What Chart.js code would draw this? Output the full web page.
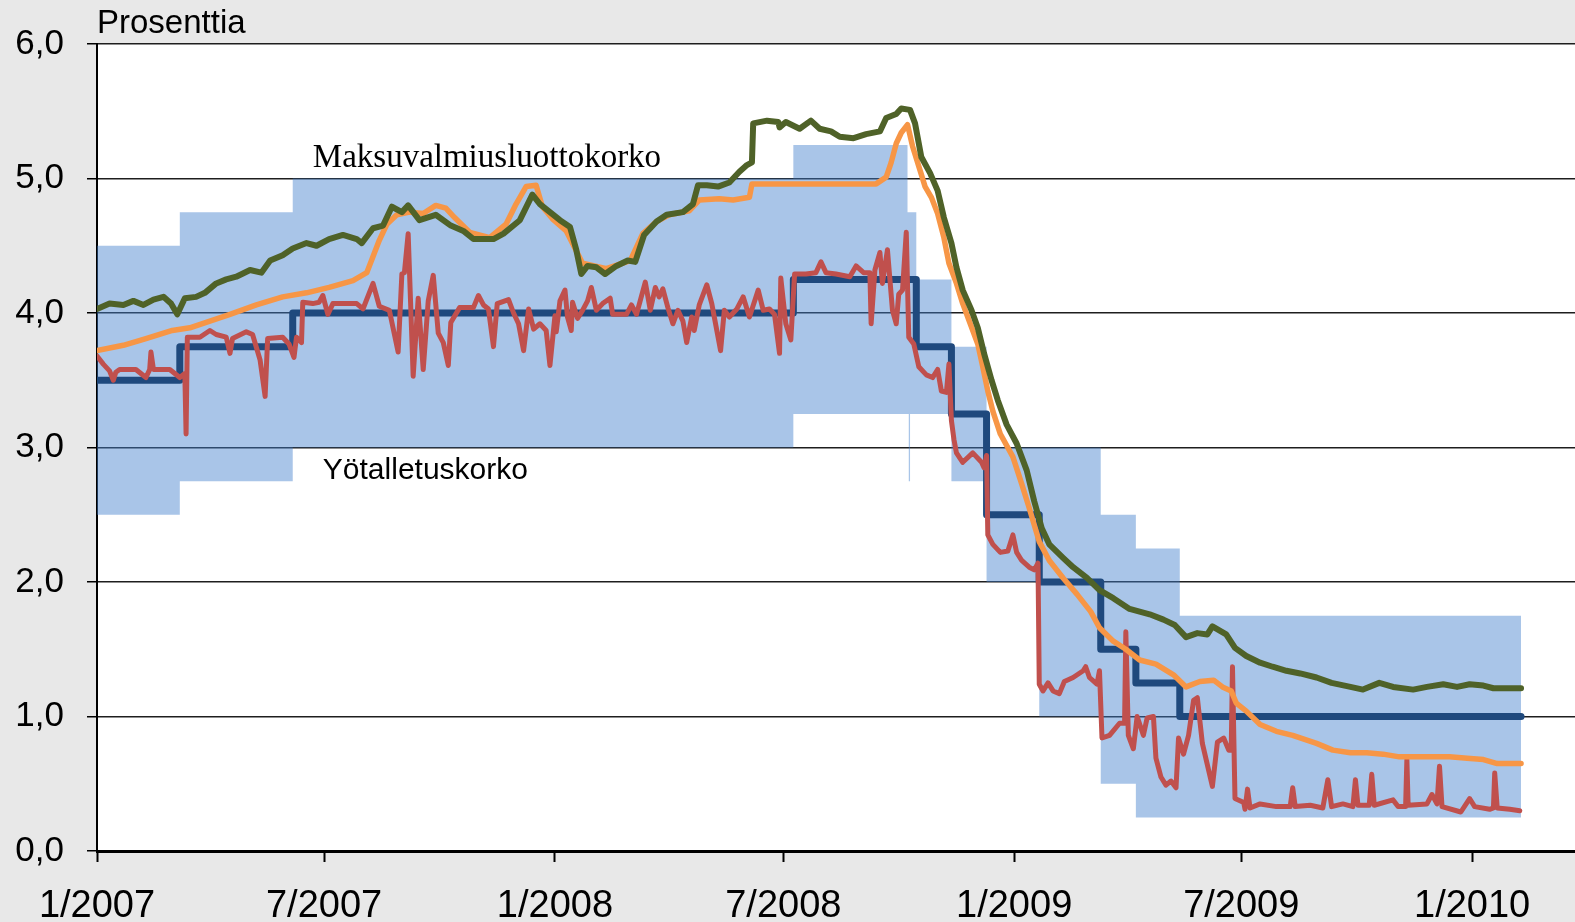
<!DOCTYPE html>
<html>
<head>
<meta charset="utf-8">
<script src="https://cdn.jsdelivr.net/npm/chart.js@4/dist/chart.umd.min.js"></script>
<style>
html,body{margin:0;padding:0;background:#e8e8e8;overflow:hidden}
#wrap{position:relative;width:1575px;height:922px}
canvas{display:block}
</style>
</head>
<body>
<div id="wrap"><canvas id="c" width="1575" height="922"></canvas></div>
<script>
// ---- DATA (x = days since 1 Jan 2007) ----
const tickDays = [0, 181, 365, 547, 731, 912, 1096];
const tickLabels = ['1/2007', '7/2007', '1/2008', '7/2008', '1/2009', '7/2009', '1/2010'];
const yTicks = [0, 1, 2, 3, 4, 5, 6];
const lastDay = 1135;
const axisEndDay = 1178;

// Main refinancing rate (step changes)
const mroDays  = [0, 66, 156, 555, 653, 681, 709, 751, 800, 828, 863];
const mroRates = [3.50, 3.75, 4.00, 4.25, 3.75, 3.25, 2.50, 2.00, 1.50, 1.25, 1.00];

// Corridor: marginal lending (upper) and deposit facility (lower)
const corridorDays = [0, 66, 156, 555, 646, 647, 648, 653, 681, 709, 751, 800, 828, 863];
const lendingRates = [4.50, 4.75, 5.00, 5.25, 4.75, 4.75, 4.75, 4.25, 3.75, 3.00, 3.00, 2.50, 2.25, 1.75];
const depositRates = [2.50, 2.75, 3.00, 3.25, 3.25, 2.75, 3.25, 3.25, 2.75, 2.00, 1.00, 0.50, 0.25, 0.25];

// 12-month Euribor (green)
const euribor12m = [[0,4.03],[10,4.07],[21,4.06],[29,4.09],[37,4.06],[45,4.10],[53,4.12],[59,4.07],[64,3.99],[70,4.11],[79,4.12],[86,4.15],[95,4.22],[103,4.25],[111,4.27],[122,4.32],[131,4.30],[138,4.39],[148,4.43],[156,4.48],[167,4.52],[175,4.50],[185,4.55],[196,4.58],[207,4.55],[211,4.52],[220,4.63],[228,4.65],[235,4.79],[243,4.75],[248,4.80],[257,4.69],[270,4.73],[282,4.65],[292,4.61],[300,4.55],[316,4.55],[324,4.59],[337,4.69],[347,4.88],[353,4.81],[361,4.75],[369,4.69],[377,4.64],[382,4.47],[386,4.29],[391,4.35],[398,4.34],[405,4.29],[414,4.35],[423,4.39],[429,4.38],[436,4.58],[446,4.68],[454,4.73],[467,4.75],[475,4.81],[479,4.95],[486,4.95],[495,4.94],[504,4.97],[512,5.05],[518,5.10],[522,5.12],[523,5.41],[534,5.43],[543,5.42],[544,5.38],[549,5.42],[560,5.37],[569,5.43],[576,5.37],[585,5.35],[592,5.31],[603,5.30],[613,5.33],[624,5.35],[629,5.45],[637,5.48],[641,5.52],[648,5.51],[652,5.41],[657,5.16],[664,5.04],[670,4.91],[675,4.71],[681,4.52],[685,4.34],[690,4.17],[697,4.02],[702,3.89],[707,3.70],[713,3.50],[718,3.35],[725,3.17],[733,3.03],[741,2.83],[747,2.60],[753,2.40],[759,2.28],[770,2.18],[778,2.11],[789,2.03],[799,1.94],[810,1.88],[823,1.80],[839,1.76],[850,1.72],[859,1.68],[868,1.59],[877,1.62],[885,1.61],[889,1.67],[900,1.61],[907,1.51],[916,1.45],[927,1.40],[937,1.37],[948,1.34],[959,1.32],[972,1.29],[984,1.25],[999,1.22],[1009,1.20],[1022,1.25],[1033,1.22],[1049,1.20],[1060,1.22],[1073,1.24],[1084,1.22],[1094,1.24],[1105,1.23],[1113,1.21],[1135,1.21]];

// 3-month Euribor (orange)
const euribor3m = [[0,3.72],[21,3.76],[39,3.81],[60,3.87],[74,3.89],[87,3.93],[106,3.99],[127,4.06],[148,4.12],[167,4.15],[185,4.19],[204,4.24],[215,4.30],[220,4.42],[225,4.54],[231,4.66],[239,4.73],[249,4.75],[260,4.74],[270,4.80],[278,4.78],[285,4.71],[297,4.60],[313,4.56],[326,4.66],[334,4.81],[342,4.94],[350,4.95],[355,4.79],[363,4.70],[374,4.61],[387,4.37],[406,4.33],[425,4.39],[435,4.59],[446,4.68],[456,4.73],[472,4.76],[480,4.84],[496,4.85],[507,4.84],[520,4.86],[522,4.96],[536,4.96],[561,4.96],[587,4.96],[613,4.96],[621,4.96],[629,5.01],[633,5.12],[637,5.26],[641,5.34],[646,5.40],[650,5.24],[656,5.06],[660,4.94],[665,4.86],[670,4.74],[675,4.56],[679,4.37],[685,4.22],[690,4.07],[696,3.92],[702,3.77],[706,3.60],[710,3.42],[714,3.27],[720,3.10],[730,2.93],[737,2.73],[743,2.55],[751,2.30],[759,2.16],[770,2.03],[781,1.91],[792,1.78],[799,1.66],[810,1.56],[820,1.50],[831,1.42],[844,1.39],[858,1.31],[868,1.22],[879,1.26],[890,1.27],[897,1.22],[904,1.19],[908,1.10],[916,1.04],[927,0.94],[940,0.89],[953,0.86],[972,0.80],[985,0.75],[999,0.73],[1012,0.73],[1025,0.72],[1038,0.70],[1078,0.70],[1092,0.69],[1105,0.68],[1116,0.65],[1135,0.65]];

// EONIA (red)
const eonia = [[0,3.68],[5,3.62],[10,3.57],[13,3.50],[15,3.56],[18,3.58],[31,3.58],[39,3.52],[42,3.58],[43,3.71],[45,3.58],[58,3.58],[66,3.52],[70,3.55],[71,3.10],[72,3.82],[82,3.82],[90,3.87],[95,3.84],[103,3.82],[106,3.70],[108,3.81],[119,3.86],[124,3.84],[130,3.65],[134,3.38],[136,3.81],[148,3.82],[153,3.77],[157,3.67],[159,3.82],[163,3.78],[164,4.08],[172,4.07],[177,4.08],[180,4.13],[184,3.99],[188,4.07],[207,4.07],[212,4.03],[220,4.22],[225,4.05],[233,4.02],[240,3.71],[243,4.29],[245,4.30],[248,4.59],[252,3.53],[256,4.11],[260,3.58],[264,4.09],[268,4.28],[272,3.85],[276,3.78],[280,3.61],[282,3.93],[289,4.04],[300,4.04],[304,4.13],[308,4.06],[312,4.03],[316,3.75],[319,4.07],[328,4.10],[332,4.00],[336,3.92],[340,3.72],[344,4.03],[348,3.88],[353,3.92],[358,3.87],[361,3.61],[365,3.98],[366,3.86],[369,4.09],[373,4.17],[375,3.97],[378,3.87],[379,4.08],[383,3.96],[387,4.02],[391,4.09],[394,4.19],[398,4.02],[403,4.07],[409,4.11],[411,3.99],[422,3.99],[426,4.06],[430,3.99],[437,4.23],[441,4.02],[445,4.19],[448,4.12],[451,4.18],[455,4.04],[459,3.92],[463,4.02],[467,3.94],[470,3.78],[474,3.97],[476,3.87],[480,4.06],[486,4.21],[490,4.07],[492,3.97],[497,3.72],[500,4.02],[504,3.97],[510,4.03],[515,4.12],[520,3.97],[527,4.17],[531,4.02],[536,4.03],[540,3.99],[544,3.70],[545,4.26],[549,3.92],[553,3.80],[556,4.29],[565,4.29],[573,4.30],[577,4.38],[581,4.30],[589,4.29],[600,4.27],[605,4.35],[611,4.30],[616,4.30],[617,3.92],[620,4.32],[624,4.45],[626,4.22],[630,4.47],[634,4.02],[637,3.92],[639,4.14],[642,4.17],[645,4.60],[647,3.82],[651,3.77],[655,3.60],[661,3.54],[666,3.52],[670,3.58],[673,3.42],[677,3.41],[679,3.62],[681,3.20],[683,3.06],[685,2.96],[690,2.89],[698,2.96],[705,2.89],[707,2.85],[709,2.94],[710,2.35],[714,2.28],[720,2.22],[726,2.23],[730,2.35],[733,2.22],[737,2.16],[743,2.11],[747,2.09],[750,2.14],[751,1.24],[754,1.19],[758,1.25],[762,1.19],[767,1.17],[771,1.26],[778,1.29],[786,1.34],[788,1.37],[791,1.29],[797,1.24],[799,1.34],[801,0.84],[807,0.86],[815,0.95],[819,0.95],[820,1.63],[822,0.86],[826,0.76],[829,1.00],[834,0.86],[837,0.99],[842,1.00],[844,0.69],[848,0.55],[852,0.49],[856,0.52],[860,0.47],[862,0.84],[866,0.72],[870,0.86],[874,1.12],[877,1.14],[881,0.80],[889,0.48],[893,0.81],[898,0.84],[902,0.75],[904,0.75],[905,1.37],[907,0.39],[914,0.36],[915,0.31],[917,0.46],[919,0.32],[927,0.35],[940,0.33],[951,0.33],[953,0.47],[955,0.33],[967,0.34],[977,0.32],[981,0.53],[984,0.33],[993,0.35],[1001,0.33],[1003,0.53],[1005,0.34],[1014,0.34],[1016,0.57],[1018,0.34],[1033,0.38],[1037,0.33],[1043,0.33],[1044,0.68],[1045,0.34],[1060,0.35],[1064,0.42],[1068,0.35],[1070,0.63],[1072,0.33],[1087,0.29],[1094,0.39],[1098,0.33],[1110,0.31],[1113,0.32],[1114,0.58],[1116,0.32],[1126,0.31],[1134,0.30]];

const titleText = 'Prosenttia';
const upperLabel = 'Maksuvalmiusluottokorko';
const lowerLabel = 'Yötalletuskorko';

// ---- helpers ----
function stepPoints(days, vals, end) {
  const pts = [];
  for (let i = 0; i < days.length; i++) {
    if (i > 0) pts.push({x: days[i], y: vals[i - 1]});
    pts.push({x: days[i], y: vals[i]});
  }
  pts.push({x: end, y: vals[vals.length - 1]});
  return pts;
}
const toXY = arr => arr.map(p => ({x: p[0], y: p[1]}));

function hasFont(name) {
  const c = document.createElement('canvas').getContext('2d');
  c.font = '40px monospace';
  const a = c.measureText('1/2007 Wiab').width;
  c.font = '40px "' + name + '", monospace';
  const b = c.measureText('1/2007 Wiab').width;
  return Math.abs(a - b) > 0.5;
}
const narrow = hasFont('Liberation Sans Narrow');
const xFont = narrow ? {family: '"Liberation Sans Narrow"', size: 42} : {family: '"Liberation Sans"', size: 38};

const bgPlugin = {
  id: 'bg',
  beforeDraw(chart) {
    const {ctx, chartArea: a} = chart;
    ctx.save();
    ctx.fillStyle = '#e8e8e8';
    ctx.fillRect(0, 0, chart.width, chart.height);
    ctx.fillStyle = '#ffffff';
    ctx.fillRect(a.left, a.top, a.right - a.left, a.bottom - a.top);
    ctx.restore();
  }
};

const textPlugin = {
  id: 'texts',
  afterDraw(chart) {
    const ctx = chart.ctx;
    const xs = chart.scales.x, ys = chart.scales.y;
    ctx.save();
    ctx.fillStyle = '#000';
    ctx.textBaseline = 'alphabetic';
    ctx.textAlign = 'left';
    ctx.font = '33px "Liberation Sans"';
    ctx.fillText(titleText, xs.left, 33);
    ctx.font = '33px "Liberation Serif"';
    ctx.fillText(upperLabel, xs.getPixelForValue(172), ys.getPixelForValue(5.0) - 12);
    ctx.font = '30px "Liberation Sans"';
    ctx.fillText(lowerLabel, xs.getPixelForValue(180), ys.getPixelForValue(3.0) + 31);
    ctx.restore();
  }
};

new Chart(document.getElementById('c'), {
  type: 'line',
  data: {
    datasets: [
      {label: '12 kk Euribor', data: toXY(euribor12m), borderColor: '#4F6228', borderWidth: 6, order: 0},
      {label: '3 kk Euribor', data: toXY(euribor3m), borderColor: '#F79646', borderWidth: 5.5, order: 1},
      {label: 'EONIA', data: toXY(eonia), borderColor: '#C0504D', borderWidth: 5, order: 2},
      {label: 'Perusrahoitusoperaatioiden korko', data: stepPoints(mroDays, mroRates, lastDay), borderColor: '#1F497D', borderWidth: 7, order: 3},
      {label: upperLabel, data: stepPoints(corridorDays, lendingRates, lastDay), borderWidth: 0, borderColor: 'rgba(0,0,0,0)', backgroundColor: 'rgba(64,126,204,0.45)', fill: '+1', order: 4},
      {label: lowerLabel, data: stepPoints(corridorDays, depositRates, lastDay), borderWidth: 0, borderColor: 'rgba(0,0,0,0)', fill: false, order: 5}
    ]
  },
  options: {
    responsive: false,
    animation: false,
    devicePixelRatio: 1,
    elements: {
      point: {radius: 0, hoverRadius: 0},
      line: {tension: 0, borderJoinStyle: 'round', borderCapStyle: 'round'}
    },
    plugins: {legend: {display: false}, tooltip: {enabled: false}, title: {display: false}},
    layout: {padding: {top: 44, right: 0, left: 0, bottom: 0}},
    scales: {
      x: {
        type: 'linear',
        min: 0,
        max: axisEndDay,
        afterBuildTicks: s => { s.ticks = tickDays.map(v => ({value: v})); },
        afterFit: s => { s.height = 71; },
        ticks: {
          autoSkip: false, maxRotation: 0, minRotation: 0,
          color: '#000', font: xFont, padding: 22,
          callback: (v, i) => tickLabels[i]
        },
        grid: {drawOnChartArea: false, drawTicks: true, tickLength: 11, tickColor: '#000', tickWidth: 2},
        border: {display: true, color: '#000', width: 3}
      },
      y: {
        min: 0, max: 6,
        afterBuildTicks: s => { s.ticks = yTicks.map(v => ({value: v})); },
        afterFit: s => { s.width = 97; },
        ticks: {
          color: '#000', font: {family: '"Liberation Sans"', size: 35}, padding: 23,
          callback: v => v.toFixed(1).replace('.', ',')
        },
        grid: {color: '#1e1e1e', lineWidth: 1.5, tickLength: 10, tickColor: '#000', tickWidth: 1.5},
        border: {display: true, color: '#000', width: 2}
      }
    }
  },
  plugins: [bgPlugin, textPlugin]
});
</script>
</body>
</html>
